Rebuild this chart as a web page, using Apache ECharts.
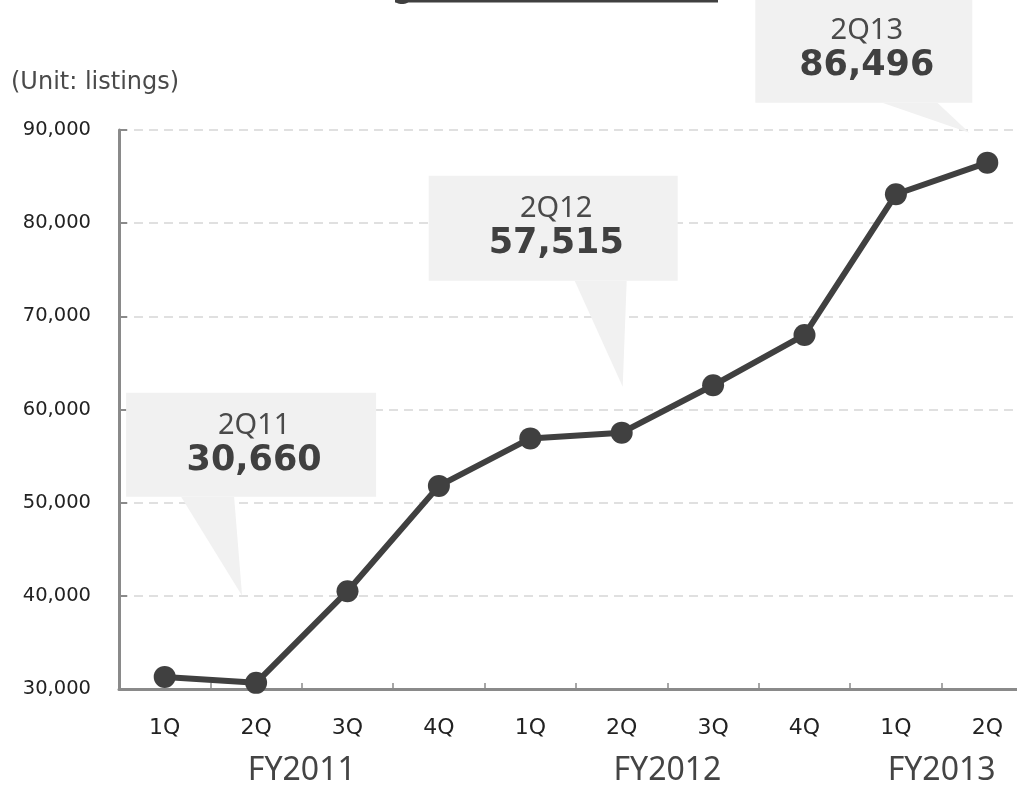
<!DOCTYPE html>
<html>
<head>
<meta charset="utf-8">
<script src="https://cdn.jsdelivr.net/npm/echarts@6/dist/echarts.min.js"></script>
<style>
html,body{margin:0;padding:0;background:#fff;}
#chart{width:1017px;height:786px;}
</style>
</head>
<body>
<div id="chart"></div>
<script>
// ---- data ----
var quarters = ['1Q','2Q','3Q','4Q','1Q','2Q','3Q','4Q','1Q','2Q'];
var listings = [31300, 30660, 40500, 51800, 56900, 57515, 62600, 68000, 83100, 86496];
var fiscalYears = ['FY2011','FY2012','FY2013'];
var fiscalYearQuarterCounts = [4, 4, 2];
var calloutLabels = ['2Q11','2Q12','2Q13'];
var calloutIndices = [1, 5, 9];
var yTicks = [30000, 40000, 50000, 60000, 70000, 80000, 90000];
var unitLabel = '(Unit: listings)';

var FONT = "'Noto Sans', 'Noto Sans CJK JP', sans-serif";
var DV = "'DejaVu Sans', sans-serif";
var chart = echarts.init(document.getElementById('chart'), null, {renderer:'canvas'});

function fmt(v){ return v.toLocaleString('en-US'); }

chart.setOption({
  animation: false,
  backgroundColor: '#ffffff',
  grid: { left: 119, width: 914, top: 130, bottom: 97, containLabel: false, outerBoundsMode: 'none' },
  xAxis: {
    type: 'category',
    data: quarters,
    boundaryGap: true,
    axisLine: { lineStyle: { color: '#8a8a8a', width: 3 } },
    axisTick: { show: true, inside: true, length: 6, lineStyle: { color: '#8a8a8a', width: 1.5 } },
    axisLabel: { margin: 28, color: '#222', fontSize: 22, fontFamily: DV, interval: 0 },
    splitLine: { show: false }
  },
  yAxis: {
    type: 'value',
    min: yTicks[0],
    max: yTicks[yTicks.length - 1],
    interval: yTicks[1] - yTicks[0],
    axisLine: { show: true, lineStyle: { color: '#8a8a8a', width: 3 } },
    axisTick: { show: true, inside: true, length: 8, lineStyle: { color: '#8a8a8a', width: 2 } },
    axisLabel: { margin: 28, color: '#222', fontSize: 19.5, fontFamily: DV, formatter: function(v){ return fmt(v); } },
    splitLine: { show: true, lineStyle: { color: '#d6d6d6', width: 1.5, type: [9, 6] } }
  },
  series: [{
    type: 'line',
    data: listings,
    symbol: 'circle',
    symbolSize: 22,
    z: 5,
    lineStyle: { color: '#404040', width: 6 },
    itemStyle: { color: '#404040' }
  }]
});

// ---- annotations anchored to data via the axes ----
var graphics = [];
// unit label
graphics.push({ type: 'text', left: 11, top: 71, z: 10,
  style: { text: unitLabel, fill: '#4a4a4a', font: '24px ' + DV } });
// cut-off title underline at top
graphics.push({ type: 'rect', shape: { x: 395, y: 0, width: 323, height: 2.5 }, z: 10, style: { fill: '#404040' } });
graphics.push({ type: 'ellipse', shape: { cx: 402, cy: 0.5, rx: 7, ry: 3.5 }, z: 10, style: { fill: '#404040' } });

// fiscal year group labels
var start = 0;
fiscalYears.forEach(function(fy, k){
  var n = fiscalYearQuarterCounts[k];
  var a = chart.convertToPixel({ xAxisIndex: 0 }, Math.floor(start + (n - 1) / 2));
  var b = chart.convertToPixel({ xAxisIndex: 0 }, Math.ceil(start + (n - 1) / 2));
  var cx = (a + b) / 2;
  var yAxisPx = chart.convertToPixel({ yAxisIndex: 0 }, yTicks[0]);
  graphics.push({ type: 'text', x: cx, y: yAxisPx + 82, z: 10,
    style: { text: fy, fill: '#444', font: '32px ' + FONT, textAlign: 'center', textVerticalAlign: 'middle' } });
  start += n;
});

// callout layout offsets (relative to the data point)
var calloutLayout = [
  { box: [-130, -290, 250, 104], base: [-75, -22], tip: [-14, -87] },
  { box: [-193, -257, 249, 105], base: [-47, 5], tip: [1, -46] },
  { box: [-232, -165, 217, 105], base: [-105, -50], tip: [-18, -30] }
];
calloutIndices.forEach(function(idx, k){
  var p = chart.convertToPixel({ seriesIndex: 0 }, [idx, listings[idx]]);
  var L = calloutLayout[k];
  var bx = p[0] + L.box[0], by = p[1] + L.box[1], bw = L.box[2], bh = L.box[3];
  var fill = '#f1f1f1';
  graphics.push({ type: 'rect', z: 1, shape: { x: bx, y: by, width: bw, height: bh }, style: { fill: fill } });
  graphics.push({ type: 'polygon', z: 1, shape: { points: [
    [p[0] + L.base[0], by + bh], [p[0] + L.base[1], by + bh], [p[0] + L.tip[0], p[1] + L.tip[1]]
  ] }, style: { fill: fill } });
  var cx = bx + bw / 2 + 3;
  graphics.push({ type: 'text', z: 2, x: cx, y: by + 33,
    style: { text: calloutLabels[k], fill: '#4a4a4a', font: '29px ' + FONT, textAlign: 'center', textVerticalAlign: 'middle' } });
  graphics.push({ type: 'text', z: 2, x: cx, y: by + 68,
    style: { text: fmt(listings[idx]), fill: '#404040', font: 'bold 35px ' + DV, textAlign: 'center', textVerticalAlign: 'middle' } });
});

chart.setOption({ graphic: graphics });
</script>
</body>
</html>
